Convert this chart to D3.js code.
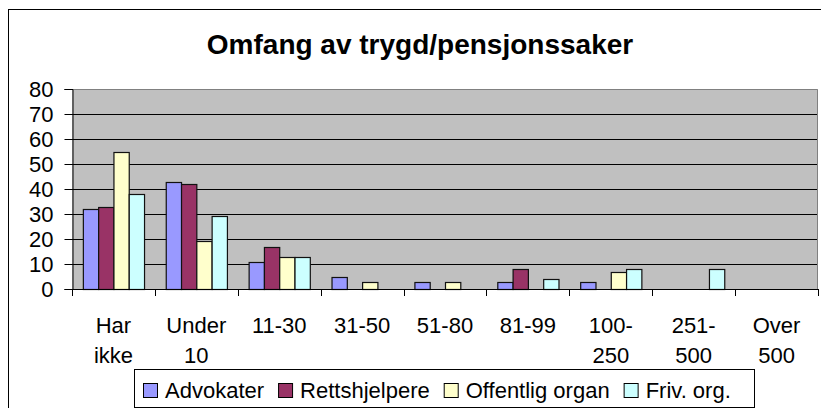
<!DOCTYPE html>
<html>
<head>
<meta charset="utf-8">
<script src="https://cdn.jsdelivr.net/npm/d3@7"></script>
<style>
  body { margin: 0; background: #fff; }
  svg { display: block; font-family: "Liberation Sans", Arial, sans-serif; }
</style>
</head>
<body>
<div id="chart"></div>
<script>
const categories = ["Har ikke", "Under 10", "11-30", "31-50", "51-80", "81-99", "100-250", "251-500", "Over 500"];
const tickLabels = [["Har", "ikke"], ["Under", "10"], ["11-30"], ["31-50"], ["51-80"], ["81-99"], ["100-", "250"], ["251-", "500"], ["Over", "500"]];
const series = ["Advokater", "Rettshjelpere", "Offentlig organ", "Friv. org."];
const advokater = [32, 43, 11, 5, 3, 3, 3, 0, 0];
const rettshjelpere = [33, 42, 17, 0, 0, 8, 0, 0, 0];
const offentlig = [55, 19, 13, 3, 3, 0, 7, 0, 0];
const friv = [38, 29, 13, 0, 0, 4, 8, 8, 0];
const yTicks = [0, 10, 20, 30, 40, 50, 60, 70, 80];

const colors = ["#9999ff", "#993366", "#ffffcc", "#ccffff"];
const values = [advokater, rettshjelpere, offentlig, friv];

const width = 821, height = 408;
const svg = d3.select("#chart").append("svg")
  .attr("width", width)
  .attr("height", height);

// chart border (runs off the right and bottom edges)
svg.append("rect")
  .attr("x", 8.5).attr("y", 9.5)
  .attr("width", 900).attr("height", 500)
  .attr("fill", "#fff").attr("stroke", "#000");

const pLeft = 72, pRight = 818, pTop = 89, pBottom = 289;

const x0 = d3.scaleBand().domain(categories).range([pLeft, pRight]).padding(0);
const x1 = d3.scaleBand().domain(series).range([0, x0.bandwidth()])
  .paddingInner(0).paddingOuter(0.71);
const y = d3.scaleLinear().domain([0, 80]).range([pBottom, pTop]);

// plot background
svg.append("rect")
  .attr("x", pLeft).attr("y", pTop)
  .attr("width", pRight - pLeft).attr("height", pBottom - pTop)
  .attr("fill", "#c0c0c0");

// gridlines
svg.append("g").selectAll("line")
  .data(yTicks.filter(d => d > 0 && d < 80))
  .enter().append("line")
  .attr("x1", pLeft).attr("x2", pRight)
  .attr("y1", d => Math.round(y(d)) + 0.5).attr("y2", d => Math.round(y(d)) + 0.5)
  .attr("stroke", "#000");

// plot border top/right
svg.append("path")
  .attr("d", `M${pLeft},${pTop + 0.5}H${pRight - 0.5}V${pBottom}`)
  .attr("fill", "none").attr("stroke", "#808080");

// bars
const rows = categories.map((c, i) => ({ cat: c, vals: series.map((s, j) => ({ s, j, v: values[j][i] })) }));
const groups = svg.append("g").selectAll("g")
  .data(rows).enter().append("g")
  .attr("transform", d => `translate(${x0(d.cat)},0)`);

groups.selectAll("rect")
  .data(d => d.vals.filter(e => e.v > 0))
  .enter().append("rect")
  .attr("x", d => x1(d.s) + 0.5)
  .attr("y", d => Math.round(y(d.v)) + 0.5)
  .attr("width", x1.bandwidth())
  .attr("height", d => pBottom - Math.round(y(d.v)))
  .attr("fill", d => colors[d.j])
  .attr("stroke", "#111")
  .attr("stroke-width", 1.2);

// y axis
const yAxis = svg.append("g")
  .attr("transform", `translate(${pLeft + 0.5},0)`)
  .call(d3.axisLeft(y).tickValues(yTicks).tickSize(8).tickPadding(11));
yAxis.selectAll("text").attr("font-size", 22).attr("fill", "#000")
  .attr("font-family", "'Liberation Sans', Arial, sans-serif");
yAxis.selectAll("line, path").attr("stroke", "#000");

// x axis line and boundary ticks
svg.append("line")
  .attr("x1", pLeft).attr("x2", pRight)
  .attr("y1", pBottom + 0.5).attr("y2", pBottom + 0.5)
  .attr("stroke", "#000");
const bounds = categories.map(c => x0(c)).concat([pRight]);
svg.append("g").selectAll("line")
  .data(bounds).enter().append("line")
  .attr("x1", d => Math.round(d) + 0.5).attr("x2", d => Math.round(d) + 0.5)
  .attr("y1", pBottom).attr("y2", pBottom + 7)
  .attr("stroke", "#000");

// x labels
const xl = svg.append("g").selectAll("text")
  .data(categories).enter().append("text")
  .attr("text-anchor", "middle")
  .attr("font-size", 22)
  .attr("fill", "#000");
xl.each(function (c, i) {
  const t = d3.select(this);
  tickLabels[i].forEach((line, k) => {
    t.append("tspan")
      .attr("x", x0(c) + x0.bandwidth() / 2)
      .attr("y", 333 + k * 30)
      .text(line);
  });
});

// title
svg.append("text")
  .attr("x", 420).attr("y", 54)
  .attr("text-anchor", "middle")
  .attr("font-size", 28).attr("font-weight", "bold")
  .text("Omfang av trygd/pensjonssaker");

// legend
svg.append("rect")
  .attr("x", 134.5).attr("y", 369.5)
  .attr("width", 620).attr("height", 38)
  .attr("fill", "#fff").attr("stroke", "#000");
let lx = 143;
series.forEach((s, j) => {
  svg.append("rect")
    .attr("x", lx + 0.5).attr("y", 383.5)
    .attr("width", 14).attr("height", 14)
    .attr("fill", colors[j]).attr("stroke", "#000");
  const t = svg.append("text")
    .attr("x", lx + 22).attr("y", 398)
    .attr("font-size", 22)
    .text(s);
  lx += 22 + t.node().getComputedTextLength() + 14;
});
</script>
</body>
</html>
